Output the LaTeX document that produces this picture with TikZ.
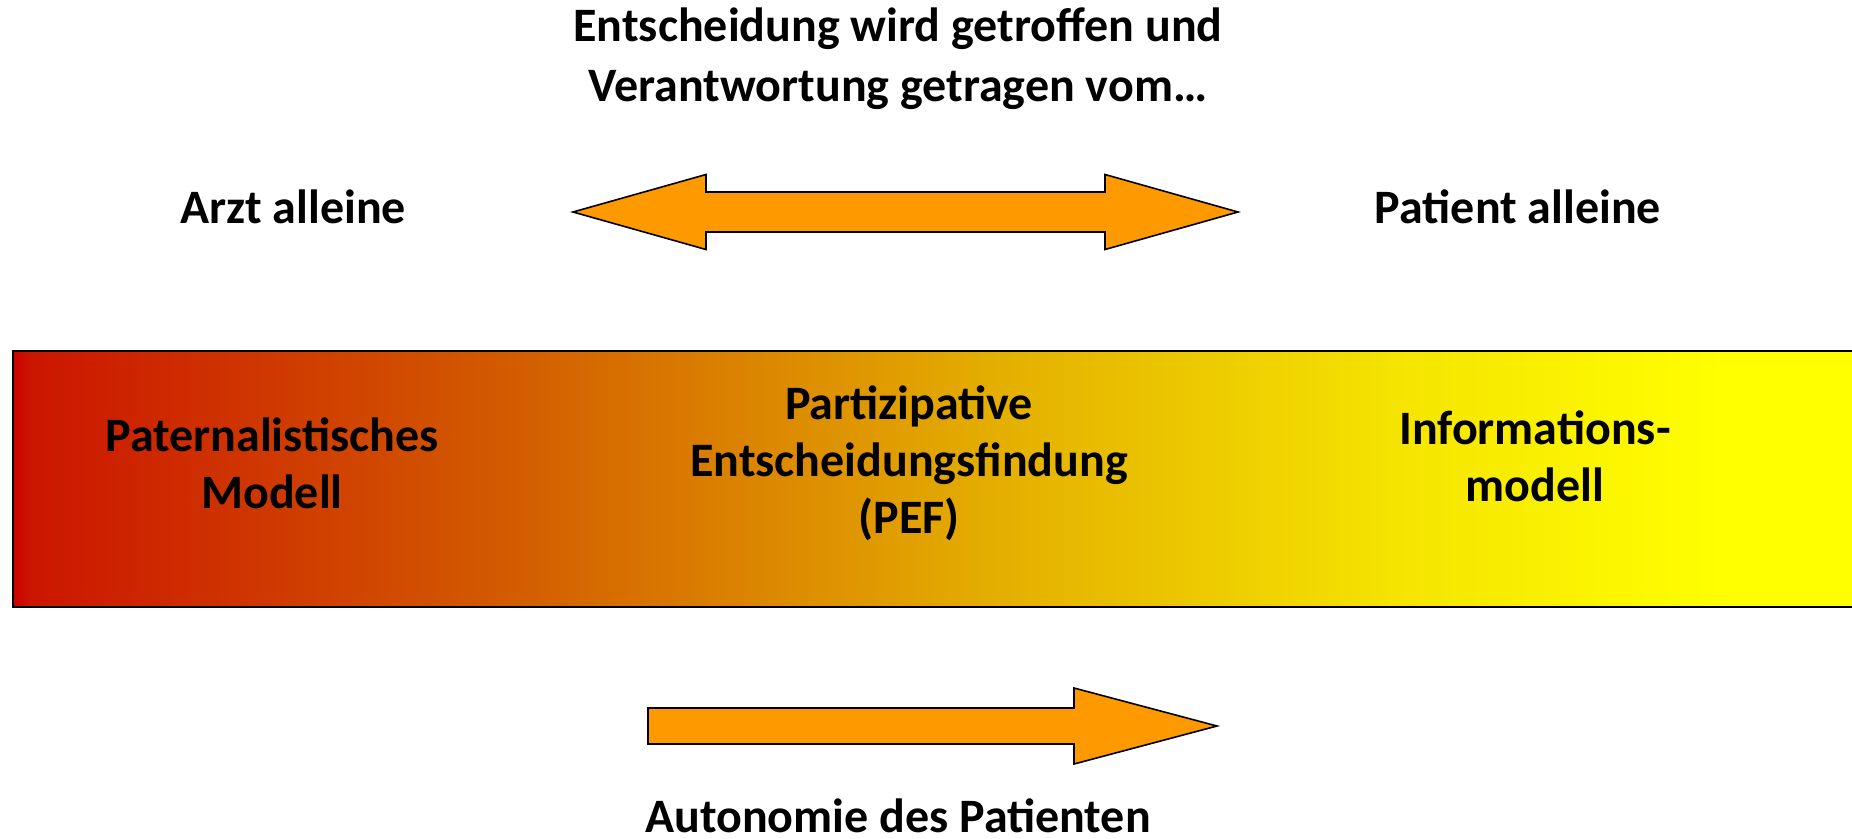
\documentclass[tikz,border=0pt]{standalone}
\usepackage{fontspec}
\setmainfont{Carlito}
\usepackage{xcolor}
\usetikzlibrary{positioning}

\definecolor{arroworange}{RGB}{255,153,0}
\definecolor{shA}{RGB}{204,0,0}
\definecolor{shB}{RGB}{204,22,0}
\definecolor{shC}{RGB}{210,90,0}
\definecolor{shD}{RGB}{228,175,0}
\definecolor{shE}{RGB}{245,228,0}
\definecolor{shF}{RGB}{255,255,0}
\pgfdeclarehorizontalshading{barshade}{100bp}{color(0bp)=(shA); color(25bp)=(shA);
  color(25.5bp)=(shB); color(38.2bp)=(shC); color(51.8bp)=(shD);
  color(62.7bp)=(shE); color(71.4bp)=(shF); color(100bp)=(shF)}

\begin{document}
\begin{tikzpicture}[x=1pt, y=-1pt,
        label/.style={font=\fontsize{48}{57}\selectfont\bfseries, align=center, inner sep=0pt},
        blockarrow/.style={fill=arroworange, draw=black, line width=1.6pt, line join=miter}]
        \useasboundingbox (0,0) rectangle (1852,838);

        % gradient bar
        \shade[shading=barshade] (13,351) rectangle (1852,607);
        \draw[line width=1.6pt] (1852,351) -- (13,351) -- (13,607) -- (1852,607);

        % arrows
        \draw[blockarrow] (573,212) -- (706,174.5) -- (706,192) -- (1105,192) -- (1105,174.5)
            -- (1238,212) -- (1105,249.5) -- (1105,232) -- (706,232) -- (706,249.5) -- cycle;
        \draw[blockarrow] (648,708) -- (1074,708) -- (1074,688) -- (1217,726)
            -- (1074,764) -- (1074,744) -- (648,744) -- cycle;

        \node[label, font=\fontsize{48}{60}\selectfont\bfseries] (frage) at (898,59)
            {Entscheidung wird getroffen und\\Verantwortung getragen vom\dots};
        \node[label, anchor=base] (arzt) at (293,223) {Arzt alleine};
        \node[label, anchor=base] (patient) at (1518,223) {Patient alleine};
        \node[label] (pat) at (272,463) {Paternalistisches\\Modell};
        \node[label] (pef) at (909,463) {Partizipative\\Entscheidungsfindung\\(PEF)};
        \node[label] (info) at (1535,456) {Informations-\\modell};
        \node[label, anchor=base] (autonomie) at (898,832) {Autonomie des Patienten};
    \end{tikzpicture}
\end{document}
